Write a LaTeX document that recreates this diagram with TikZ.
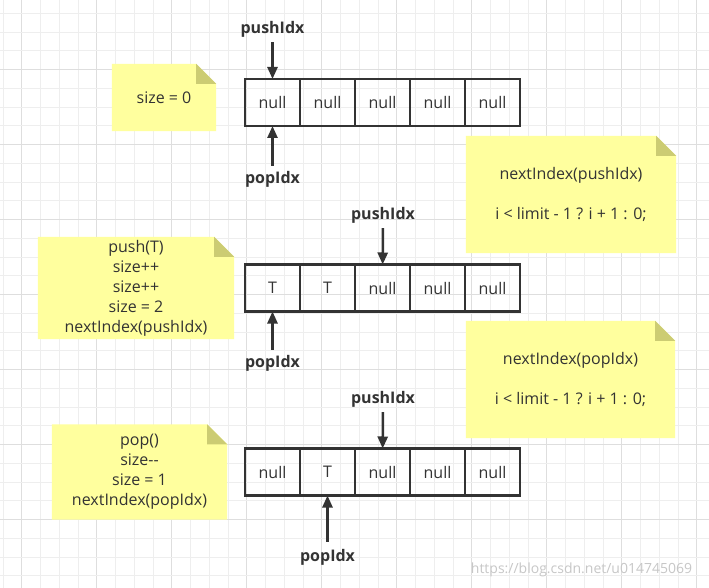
\documentclass[tikz,border=0pt]{standalone}
\usepackage{fontspec}
\setmainfont{Open Sans}
\usetikzlibrary{arrows.meta,positioning,backgrounds}
\definecolor{qInk}{HTML}{333333}
\definecolor{qNote}{HTML}{FFFF9E}
\definecolor{qFold}{HTML}{CCCC73}
\definecolor{qGrid}{HTML}{EEEEEE}
\definecolor{qGridMajor}{HTML}{DEDEDE}
\tikzset{
  cell/.style={
    draw=qInk, line width=2.5pt, minimum width=55pt, minimum height=47pt,
    inner sep=0pt, outer sep=0pt, font=\fontsize{16}{20}\selectfont, text=qInk
  },
  note/.style={inner sep=0pt, align=center, font=\fontsize{16}{20}\selectfont, text=qInk},
  idxlabel/.style={font=\fontsize{16}{18}\selectfont\bfseries, text=qInk, inner sep=1pt},
  idxarrow/.style={-{Triangle[length=12pt,width=10pt]}, line width=2.5pt, qInk, shorten <=4pt},
  gridline/.style={qGrid, line width=0.8pt},
  gridmajor/.style={qGridMajor, line width=1pt}
}
% yellow paper behind a note node, with folded top-right corner
\newcommand{\notepaper}[1]{
  \fill[qNote] (#1.south west) -- (#1.north west) -- ([xshift=-20pt]#1.north east)
    -- ([yshift=-20pt]#1.north east) -- (#1.south east) -- cycle;
  \fill[qFold] ([xshift=-20pt]#1.north east) -- ([yshift=-20pt]#1.north east)
    -- ([xshift=-20pt,yshift=-20pt]#1.north east) -- cycle;
}

\begin{document}
\begin{tikzpicture}[x=1pt, y=-1pt]
  \useasboundingbox (0,0) rectangle (709,588);

  % the three arrays
  \foreach \r/\yc/\vals in {
    1/102.5/{null,null,null,null,null},
    2/288/{T,T,null,null,null},
    3/472/{null,T,null,null,null}}{
    \foreach \v [count=\i] in \vals {
      \node[cell] (r\r-\i) at (217.5+55*\i,\yc) {\v};
    }
  }

  % index pointers
  \node[idxlabel] (push1) at (272.5,29) {pushIdx};
  \node[idxlabel] (pop1) at (272.5,179) {popIdx};
  \node[idxlabel] (push2) at (383,215) {pushIdx};
  \node[idxlabel] (pop2) at (272.5,363) {popIdx};
  \node[idxlabel] (push3) at (383,399) {pushIdx};
  \node[idxlabel] (pop3) at (327.5,557) {popIdx};
  \draw[idxarrow] (push1) -- (r1-1);
  \draw[idxarrow] (pop1) -- (r1-1);
  \draw[idxarrow] (push2) -- (r2-3);
  \draw[idxarrow] (pop2) -- (r2-1);
  \draw[idxarrow] (push3) -- (r3-3);
  \draw[idxarrow, shorten <=6pt] (pop3) -- (r3-2);

  % notes
  \node[note, minimum width=104pt, minimum height=67pt] (sizezero) at (164,97.5) {size = 0};
  \node[note, minimum width=210pt, minimum height=117pt] (nextpush) at (571,194.5)
    {nextIndex(pushIdx)\\[20pt]i < limit - 1 ? i + 1 : 0;};
  \node[note, minimum width=196pt, minimum height=102pt] (pushnote) at (136,288)
    {push(T)\\size++\\size++\\size = 2\\nextIndex(pushIdx)};
  \node[note, minimum width=209pt, minimum height=117pt] (nextpop) at (570.5,379.5)
    {nextIndex(popIdx)\\[20pt]i < limit - 1 ? i + 1 : 0;};
  \node[note, minimum width=175pt, minimum height=95pt] (popnote) at (139.5,472)
    {pop()\\size-{}-\\size = 1\\nextIndex(popIdx)};

  \node[text=black!22, font=\fontsize{14}{14}\selectfont, inner sep=0pt] (mark) at (581.5,570)
    {https://blog.csdn.net/u014745069};

  \begin{scope}[on background layer]
    \fill[white] (0,0) rectangle (709,588);
    \foreach \k in {0,...,37}{
      \pgfmathsetmacro{\gx}{2.95+18.75*\k}
      \pgfmathtruncatemacro{\km}{mod(\k,4)}
      \ifnum\km=1
        \draw[gridmajor] (\gx,0) -- (\gx,588);
      \else
        \draw[gridline] (\gx,0) -- (\gx,588);
      \fi
    }
    \foreach \k in {1,...,31}{
      \pgfmathsetmacro{\gy}{-5.45+18.75*\k}
      \pgfmathtruncatemacro{\km}{mod(\k,4)}
      \ifnum\km=0
        \draw[gridmajor] (0,\gy) -- (709,\gy);
      \else
        \draw[gridline] (0,\gy) -- (709,\gy);
      \fi
    }
    \foreach \n in {sizezero,nextpush,pushnote,nextpop,popnote}{
      \notepaper{\n}
    }
  \end{scope}
\end{tikzpicture}
\end{document}
